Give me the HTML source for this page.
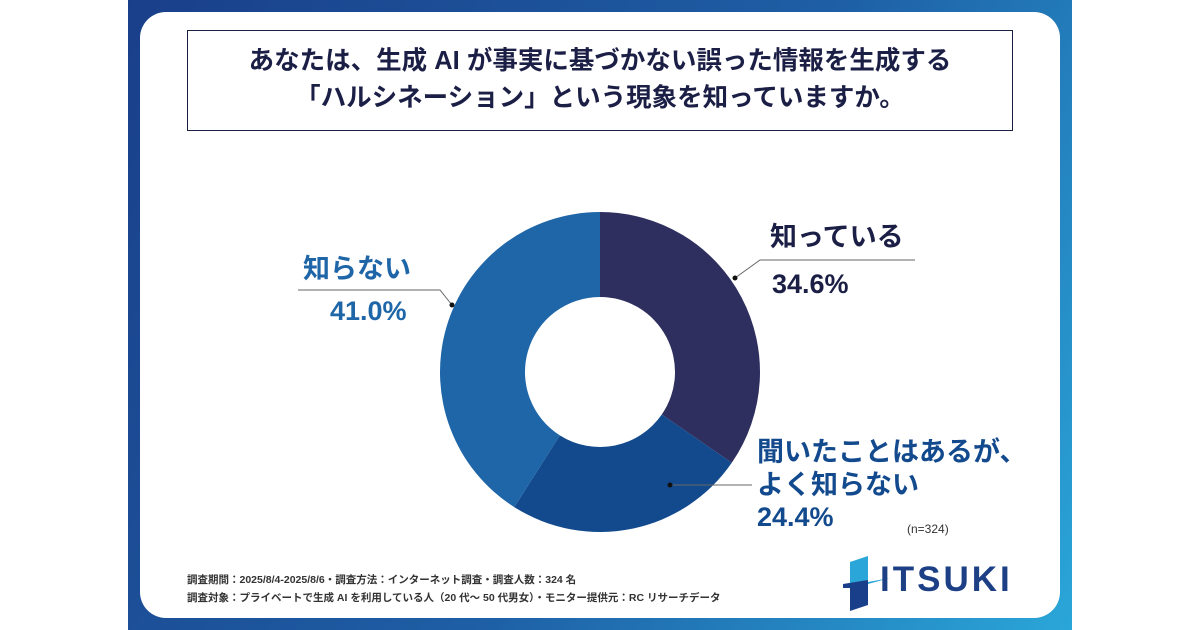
<!DOCTYPE html>
<html><head><meta charset="utf-8"><style>
html,body{margin:0;padding:0;width:1200px;height:630px;background:#fff;overflow:hidden}
body{position:relative;font-family:"Liberation Sans","Noto Sans CJK JP",sans-serif}
.frame{position:absolute;left:128px;top:0;width:944px;height:630px;background:linear-gradient(120deg,#1a3f8a 0%,#1e5fa5 55%,#2aa6d8 100%)}
.card{position:absolute;left:140px;top:12px;width:920px;height:606px;background:#fff;border-radius:26px}
.title{position:absolute;left:187px;top:30px;width:826px;height:101px;border:1.5px solid #1c1f45;box-sizing:border-box;text-align:center;font-weight:bold;font-size:25.5px;line-height:37px;color:#1c1f45;padding-top:12px}
.lbl{position:absolute;font-weight:bold;font-size:27px;line-height:32px}
.note{position:absolute;left:187px;font-size:10.5px;color:#333;font-weight:bold}
</style></head><body>
<div class="frame"></div>
<div class="card"></div>
<div class="title">あなたは、生成 AI が事実に基づかない誤った情報を生成する<br>「ハルシネーション」という現象を知っていますか。</div>
<svg id="chart" width="1200" height="630" style="position:absolute;left:0;top:0"></svg>
<div class="lbl" style="left:770px;top:221px;color:#1c1f45">知っている</div>
<div class="lbl" style="left:772px;top:268px;color:#1c1f45">34.6%</div>
<div class="lbl" style="left:303px;top:253px;color:#1f66a8">知らない</div>
<div class="lbl" style="left:330px;top:295px;color:#1f66a8">41.0%</div>
<div class="lbl" style="left:757px;top:436px;color:#134a8e;line-height:33px">聞いたことはあるが、<br>よく知らない</div>
<div class="lbl" style="left:757px;top:501px;color:#134a8e">24.4%</div>
<div style="position:absolute;left:907px;top:522px;font-size:12px;color:#333">(n=324)</div>
<div class="note" style="top:572px">調査期間：2025/8/4-2025/8/6・調査方法：インターネット調査・調査人数：324 名</div>
<div class="note" style="top:590px">調査対象：プライベートで生成 AI を利用している人（20 代〜 50 代男女）・モニター提供元：RC リサーチデータ</div>
<div style="position:absolute;left:838px;top:550px;width:180px;height:62px">
<svg width="180" height="62"><polygon points="12,12 30,6 30,30 12,36" fill="#2aa6d8"/><polygon points="5,34 30,30 30,55 12,61 12,38 5,38" fill="#1a3f8a"/><polygon points="30,32 52,28 30,34" fill="#2aa6d8"/></svg>
<div style="position:absolute;left:42px;top:10px;font-size:35px;font-weight:bold;color:#1c3f85;letter-spacing:3px">ITSUKI</div>
</div>
<script>
const categories=["知っている","聞いたことはあるが、よく知らない","知らない"];
const values=[34.6,24.4,41.0];
const colors=["#2e2f5e","#134a8e","#1f66a8"];
const svg=document.getElementById('chart');const NS="http://www.w3.org/2000/svg";
const cx=600,cy=372,R=160,r=75;
const total=values.reduce((a,b)=>a+b,0);
function pt(a,rad){return [cx+rad*Math.sin(a),cy-rad*Math.cos(a)];}
let a0=0;
values.forEach((v,i)=>{const a1=a0+v/total*2*Math.PI;const large=(a1-a0)>Math.PI?1:0;
const p1=pt(a0,R),p2=pt(a1,R),p3=pt(a1,r),p4=pt(a0,r);
const p=document.createElementNS(NS,'path');
p.setAttribute('d',`M${p1}A${R},${R} 0 ${large} 1 ${p2}L${p3}A${r},${r} 0 ${large} 0 ${p4}Z`);
p.setAttribute('fill',colors[i]);


svg.appendChild(p);a0=a1;});
const leaders=[[[735,278],[760,260],[915,260]],[[670,485],[752,485]],[[452,305],[440,290],[298,290]]];
leaders.forEach((pts,i)=>{const l=document.createElementNS(NS,'polyline');
l.setAttribute('points',pts.map(p=>p.join(',')).join(' '));l.setAttribute('fill','none');l.setAttribute('stroke','#666');l.setAttribute('stroke-width','1');


svg.appendChild(l);
const c=document.createElementNS(NS,'circle');c.setAttribute('cx',pts[0][0]);c.setAttribute('cy',pts[0][1]);c.setAttribute('r',2.5);c.setAttribute('fill','#111');


svg.appendChild(c);});
</script>
</body></html>
